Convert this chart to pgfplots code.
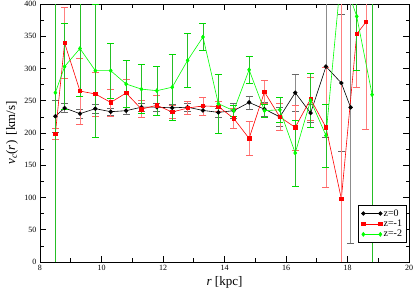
\documentclass[border=0pt]{standalone}
\usepackage{fontspec}
\setmainfont{Liberation Serif}
\usepackage{pgfplots}
\usepackage{pgfplotstable}
\pgfplotsset{compat=1.18}
\definecolor{ggreen}{RGB}{0,255,0}
\definecolor{rred}{RGB}{255,0,0}

\pgfplotstableread{
x y e
8.5 226 25
8.8 238.7 7
9.3 230 7
9.8 237.7 7
10.3 233 6
10.8 234.6 5
11.3 240 6
11.8 240 6
12.3 239 6
12.8 240 6
13.3 235 7
13.8 232 7
14.3 234.6 12
14.8 247.4 10
15.3 237 11
15.8 225 15
16.3 262.5 29
16.8 231 14
17.3 303 110
17.8 277.5 106
18.1 239.7 210
}\zzero

\pgfplotstableread{
x y e
8.5 199 8
8.8 339.5 55
9.3 265 51
9.8 260.5 34
10.3 247.4 21
10.8 262 22
11.3 237 13
11.8 243 16
12.3 232.5 10
12.8 238.7 10
13.3 242 14
13.8 241 8
14.3 222.6 15
14.8 191.6 26
15.3 263.6 18
15.8 224.8 21
16.3 208.7 35
16.8 252.7 33
17.3 208.7 93
17.8 98 310
18.3 353.5 83
18.6 372 167
}\zmone

\pgfplotstableread{
x y e
8.5 262.5 300
8.8 303 67
9.3 331 74
9.8 296.6 103
10.3 296.6 43
10.8 276 36
11.3 268 38
11.8 265.6 38
12.3 271 51
12.8 312.6 42
13.3 348.8 21
13.8 245.4 46
14.3 234.6 8
14.8 298 21
15.3 234.6 10
15.8 236 20
16.3 169 51
16.8 250.5 42
17.3 196 49
17.8 450 40
18.3 380.8 84
18.8 259.4 300
}\zmtwo

\begin{document}
\begin{tikzpicture}
\useasboundingbox (-40pt,-30pt) rectangle (375pt,262pt);
\begin{axis}[
  scale only axis, width=369pt, height=258pt,
  xmin=8, xmax=20, ymin=0, ymax=400,
  xtick distance=2, ytick distance=50,
  minor x tick num=1, minor y tick num=1,
  tick align=inside, xtick pos=both, ytick pos=both,
  major tick length=6pt, minor tick length=3.5pt,
  every tick/.style={black, line width=0.6pt},
  axis line style={line width=0.8pt},
  ticklabel style={font=\fontsize{8}{9}\selectfont},
  /pgf/number format/assume math mode=true,
  xlabel={\textit{r} [kpc]},
  ylabel={\textit{v}\textsubscript{\textit{c}}(\textit{r})\, [km/s]},
  label style={font=\fontsize{13}{14}\selectfont},
  xlabel style={at={(axis description cs:0.5,-0.078)}, anchor=center},
  ylabel style={at={(axis description cs:-0.076,0.5)}, anchor=center},
  legend style={at={(0.994,0.075)}, anchor=south east, draw=black, line width=0.7pt,
    font=\fontsize{10}{10}\selectfont, inner xsep=3pt, inner ysep=2.5pt, row sep=-0.5pt,
    nodes={inner sep=1.4pt}},
  legend cell align=left,
  legend image code/.code={\draw[#1, mark repeat=1, mark phase=1] plot coordinates {(0pt,0pt) (17pt,0pt)};},
]
\addplot[black, line width=0.6pt, mark=*, mark size=1.9pt, mark options={fill=black, solid},
  error bars/.cd, y dir=both, y explicit,
  error bar style={line width=0.5pt, black!45},
  error mark options={rotate=90, mark size=3.5pt, line width=0.6pt, black!60}]
  table[x=x, y=y, y error=e] {\zzero};
\addlegendentry{z=0}
\addplot[rred, line width=0.6pt, mark=square*, mark size=1.7pt, mark options={fill=rred, solid},
  error bars/.cd, y dir=both, y explicit,
  error bar style={line width=0.5pt, rred!50},
  error mark options={rotate=90, mark size=3.5pt, line width=0.6pt, rred!60}]
  table[x=x, y=y, y error=e] {\zmone};
\addlegendentry{z=-1}
\addplot[ggreen, line width=0.6pt, mark=diamond*, mark size=2pt, mark options={fill=ggreen, solid},
  error bars/.cd, y dir=both, y explicit,
  error bar style={line width=0.5pt, ggreen!70!black!85},
  error mark options={rotate=90, mark size=3.5pt, line width=0.6pt, ggreen!85!black}]
  table[x=x, y=y, y error=e] {\zmtwo};
\addlegendentry{z=-2}
\end{axis}
\end{tikzpicture}
\end{document}
